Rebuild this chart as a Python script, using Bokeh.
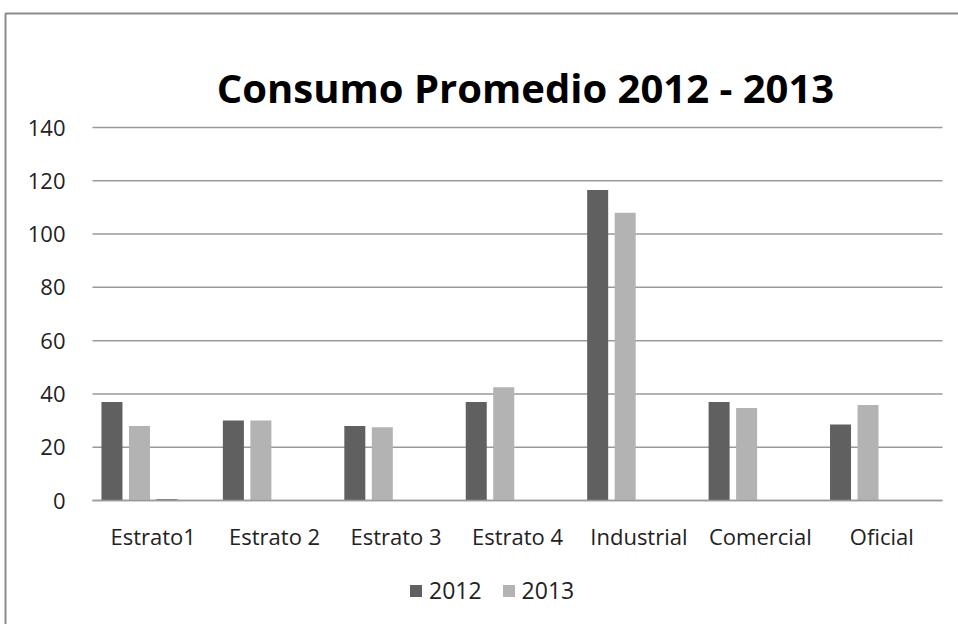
from bokeh.plotting import figure
from bokeh.models import (ColumnDataSource, Range1d, FixedTicker, Legend, LegendItem,
                          Label, BoxAnnotation)
from bokeh.embed import file_html
from bokeh.resources import INLINE

# ---- data ----
categories = ["Estrato1", "Estrato 2", "Estrato 3", "Estrato 4", "Industrial", "Comercial", "Oficial"]
v2012 = [37.0, 30.0, 28.0, 37.0, 116.5, 37.0, 28.5]
v2013 = [28.0, 30.0, 27.5, 42.5, 108.0, 34.7, 35.8]
v_other = [0.6, 0, 0, 0, 0, 0, 0]
series_names = ["2012", "2013"]
y_ticks = [0, 20, 40, 60, 80, 100, 120, 140]

# ---- layout (page pixels) ----
W, H = 958, 624
PL, PR, PT, PB = 92, 942, 127, 500      # plot area edges
n = len(categories)
px_cat = (PR - PL) / n
px_unit = (PB - PT) / max(y_ticks)
x_start = 0.5 - PL / px_cat
x_end = 0.5 + (W - PL) / px_cat
y_end = PB / px_unit
y_start = -(H - PB) / px_unit

pos = list(range(1, n + 1))
pitch = 0.2265
bw = 0.173
src = ColumnDataSource(dict(x=pos, a=v2012, b=v2013, c=v_other,
                            xa=[p_ - 1.5 * pitch for p_ in pos],
                            xb=[p_ - 0.5 * pitch for p_ in pos],
                            xc=[p_ + 0.5 * pitch for p_ in pos]))

FONT = "Open Sans"
p = figure(x_range=Range1d(x_start, x_end), y_range=Range1d(y_start, y_end),
           width=W, height=H, output_backend="svg", toolbar_location=None,
           title=None, min_border=0)
p.outline_line_color = None
p.background_fill_color = "white"
p.border_fill_color = "white"
p.xgrid.grid_line_color = None
p.ygrid.grid_line_color = None

# gridlines limited to plot area
p.segment(x0=[0.5] * len(y_ticks), x1=[n + 0.5] * len(y_ticks), y0=y_ticks, y1=y_ticks,
          line_color="#9a9a9a", line_width=1.5)

r1 = p.vbar(x="xa", top="a", width=bw, source=src, fill_color="#606060", line_color=None)
r2 = p.vbar(x="xb", top="b", width=bw, source=src, fill_color="#b3b3b3", line_color=None)
p.vbar(x="xc", top="c", width=bw, source=src, fill_color="#808080", line_color=None)

# y axis
p.yaxis.fixed_location = 0.5
p.yaxis.ticker = FixedTicker(ticks=y_ticks)
p.yaxis.axis_line_color = None
p.yaxis.major_tick_line_color = None
p.yaxis.minor_tick_line_color = None
p.yaxis.major_label_text_font = FONT
p.yaxis.major_label_text_font_size = "22px"
p.yaxis.major_label_text_color = "#222222"
p.yaxis.major_label_standoff = 21

# x axis
p.xaxis.fixed_location = 0
p.xaxis.bounds = (0.5, n + 0.5)
p.xaxis.ticker = FixedTicker(ticks=pos)
p.xaxis.major_label_overrides = {k: c for k, c in zip(pos, categories)}
p.xaxis.axis_line_color = "#9a9a9a"
p.xaxis.axis_line_width = 1.5
p.xaxis.major_tick_line_color = None
p.xaxis.minor_tick_line_color = None
p.xaxis.major_label_text_font = FONT
p.xaxis.major_label_text_font_size = "22px"
p.xaxis.major_label_text_color = "#222222"
p.xaxis.major_label_standoff = 14

# title
p.add_layout(Label(x=(n + 1) / 2 + 0.066, y=155, text="Consumo Promedio 2012 - 2013",
                   text_font=FONT, text_font_size="40px", text_font_style="bold",
                   text_color="#000000", text_align="center", text_baseline="alphabetic"))

# chart border (top & left visible)
p.add_layout(BoxAnnotation(left=x_start + 5 / px_cat, top=y_end - 13 / px_unit,
                           right=x_end + 1, bottom=y_start - 20,
                           fill_alpha=0, line_color="#8c8c8c", line_alpha=1.0, line_width=2))

legend = Legend(items=[LegendItem(label=series_names[0], renderers=[r1]),
                       LegendItem(label=series_names[1], renderers=[r2])],
                orientation="horizontal", location=(408, 18))
legend.label_text_font = FONT
legend.label_text_font_size = "23px"
legend.label_text_color = "#222222"
legend.glyph_width = 15
legend.glyph_height = 15
legend.label_standoff = 6
legend.spacing = 19
legend.padding = 0
legend.margin = 0
legend.border_line_color = None
legend.background_fill_alpha = 0
p.add_layout(legend, "center")

open("out.html", "w").write(file_html(p, INLINE))
